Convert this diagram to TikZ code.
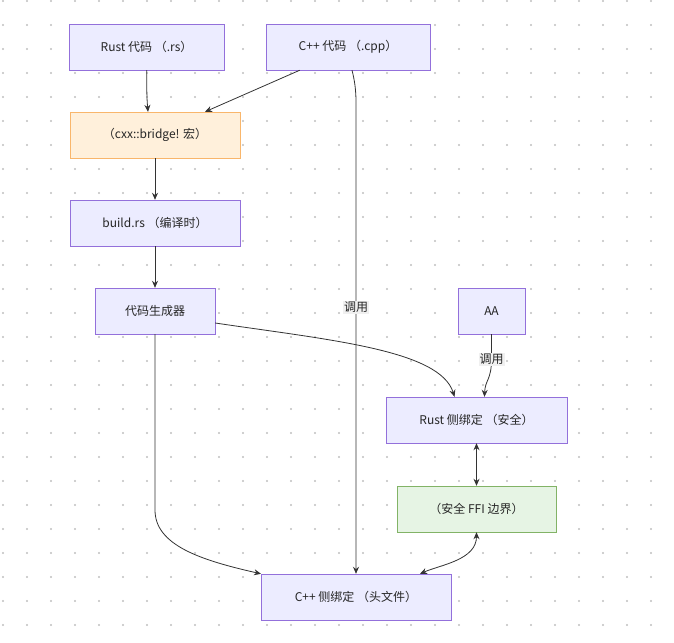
\documentclass[tikz,border=0pt]{standalone}
\usepackage{fontspec}
\setmainfont{Noto Sans CJK SC}
\usetikzlibrary{arrows.meta}
\definecolor{boxfill}{HTML}{ECECFF}
\definecolor{boxline}{HTML}{9370DB}
\definecolor{macfill}{HTML}{FFF0DB}
\definecolor{macline}{HTML}{F9B66B}
\definecolor{ffifill}{HTML}{E6F4E4}
\definecolor{ffiline}{HTML}{82B366}
\definecolor{edgecol}{HTML}{333333}
\begin{document}
\begin{tikzpicture} [
        x=1pt, y=-1pt,
        box/.style = {draw=boxline, fill=boxfill, minimum height=46pt, inner sep=0pt, font=\fontsize{12}{14}\selectfont, text=black!85},
        macro box/.style = {box, draw=macline, fill=macfill},
        ffi box/.style = {box, draw=ffiline, fill=ffifill},
        link/.style = {draw=edgecol, line width=0.8pt, -{Stealth[length=7pt,width=6pt]}},
        both link/.style = {link, {Stealth[length=7pt,width=6pt]}-{Stealth[length=7pt,width=6pt]}},
        tag/.style = {fill=black!6, inner sep=1pt, font=\fontsize{12}{14}\selectfont, text=black!85},
    ]
    \useasboundingbox (0,0) rectangle (674,642);
    % dotted grid in the background
    \foreach \gx in {0,...,27}
        \foreach \gy in {0,...,26}
            \fill[black!25] (3+24*\gx,1+24*\gy) circle (1.1pt);
    % the boxes
    \node[box, minimum width=155pt] (rustsrc) at (146.5,47) {Rust 代码 （.rs）};
    \node[box, minimum width=164pt] (cppsrc) at (348,47) {C++ 代码 （.cpp）};
    \node[macro box, minimum width=170pt] (bridge) at (155,135) {（cxx::bridge! 宏）};
    \node[box, minimum width=170pt] (buildrs) at (155,223) {build.rs （编译时）};
    \node[box, minimum width=120pt] (codegen) at (155,311) {代码生成器};
    \node[box, minimum width=67pt] (aa) at (491.5,311) {AA};
    \node[box, minimum width=181pt] (rustbind) at (476.5,420) {Rust 侧绑定 （安全）};
    \node[ffi box, minimum width=159pt] (ffi) at (476.5,509) {（安全 FFI 边界）};
    \node[box, minimum width=190pt] (cppbind) at (356,597) {C++ 侧绑定 （头文件）};
    % the connectors
    \path[link] (rustsrc.south west) ++(78,0) to[out=-90,in=95] ([xshift=-7pt]bridge.north);
    \path[link] (cppsrc.south west) ++(34,0) -- ([xshift=50pt]bridge.north);
    \path[link] (bridge) -- (buildrs);
    \path[link] (buildrs) -- (codegen);
    \path[link] (cppsrc.south) ++(4,0) .. controls (357,90) and (356,100) .. (356,130) -- node[tag, pos=0.4] {调用} (cppbind.north);
    \path[link] (codegen.east) ++(0,12) .. controls (330,340) and (440,350) .. ([xshift=-22pt]rustbind.north);
    \path[link] (codegen.south) -- (155,510) .. controls (155,545) and (200,560) .. ([xshift=-95pt]cppbind.north);
    \path[link] (aa.south) -- ++(0,25) node[tag] {调用} .. controls (491.5,380) and (485,380) .. ([xshift=8pt]rustbind.north);
    \path[both link] (rustbind) -- (ffi);
    \path[both link] (ffi.south) .. controls (476.5,560) and (440,565) .. ([xshift=64pt]cppbind.north);
\end{tikzpicture}
\end{document}
